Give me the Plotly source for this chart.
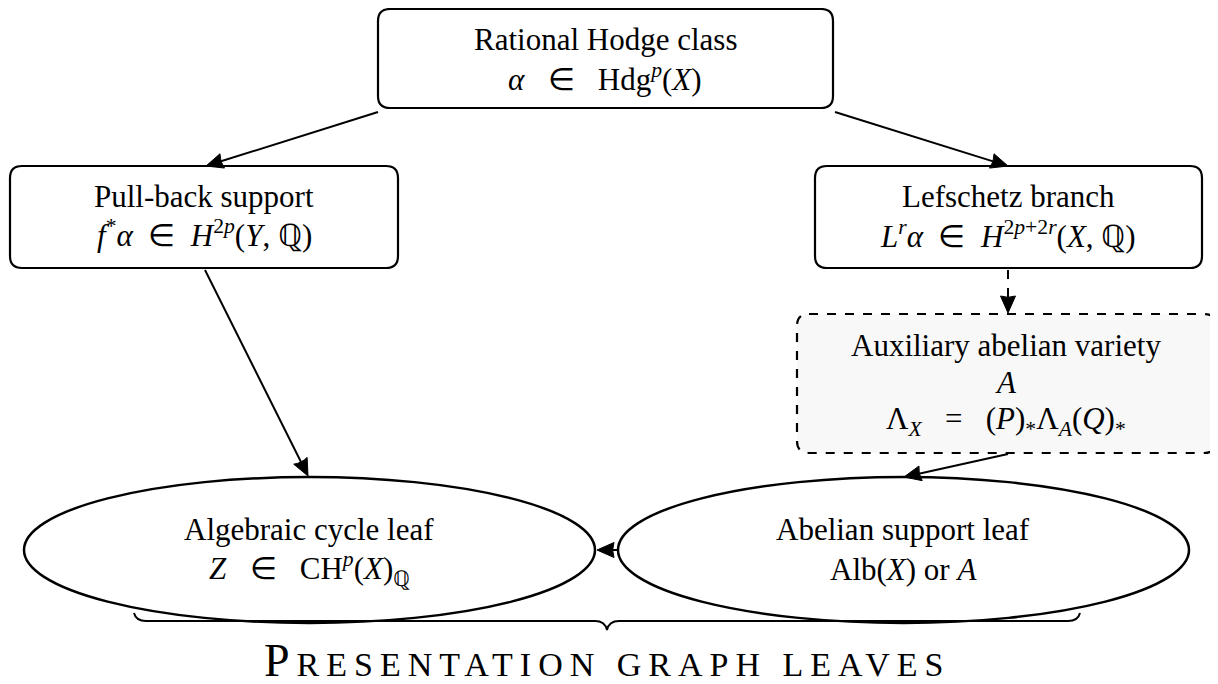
import math
import plotly.graph_objects as go

NB = "\u00a0"

# Node labels (lines of text)
top_lines = ["Rational Hodge class",
             f"<i>α</i>{NB}{NB}{NB}∈{NB}{NB}{NB}Hdg<sup><i>p</i></sup>(<i>X</i>)"]
left_lines = ["Pull-back support",
              f"<i>f</i><sup>*</sup><i>α</i>{NB}{NB}∈{NB}{NB}<i>H</i><sup>2<i>p</i></sup>(<i>Y</i>,{NB}ℚ)"]
right_lines = ["Lefschetz branch",
               f"<i>L</i><sup><i>r</i></sup><i>α</i>{NB}{NB}∈{NB}{NB}<i>H</i><sup>2<i>p</i>+2<i>r</i></sup>(<i>X</i>,{NB}ℚ)"]
aux_lines = ["Auxiliary abelian variety", "<i>A</i>",
             f"Λ<sub><i>X</i></sub>{NB}{NB}{NB}={NB}{NB}{NB}(<i>P</i>)<sub>*</sub>Λ<sub><i>A</i></sub>(<i>Q</i>)<sub>*</sub>"]
leafL_lines = ["Algebraic cycle leaf",
               f"<i>Z</i>{NB}{NB}{NB}∈{NB}{NB}{NB}CH<sup><i>p</i></sup>(<i>X</i>)<sub>ℚ</sub>"]
leafR_lines = ["Abelian support leaf", "Alb(<i>X</i>) or <i>A</i>"]
caption = ('<span style="letter-spacing:7px">P</span>'
           '<span style="font-size:34px;letter-spacing:7px">RESENTATION' + NB
           + 'GRAPH' + NB + 'LEAVES</span>')

FONT = "Liberation Serif"
FS = 31

# The page body adds an 8px offset; compensate so data units equal page pixels.
OFF = 8
W, H = 1218, 684

fig = go.Figure()
fig.add_trace(go.Scatter(x=[600], y=[300], mode="markers", marker=dict(opacity=0),
                         hoverinfo="skip", showlegend=False))

shapes = []
annotations = []


def rbox(x0, y0, x1, y1, r=12, dash="solid", fill="white"):
    path = (f"M {x0+r} {y0} L {x1-r} {y0} Q {x1} {y0} {x1} {y0+r} "
            f"L {x1} {y1-r} Q {x1} {y1} {x1-r} {y1} L {x0+r} {y1} "
            f"Q {x0} {y1} {x0} {y1-r} L {x0} {y0+r} Q {x0} {y0} {x0+r} {y0} Z")
    shapes.append(dict(type="path", path=path, xref="x", yref="y",
                       line=dict(color="black", width=2.2, dash=dash),
                       fillcolor=fill, layer="below"))


def text_lines(cx, ys, lines, size=FS):
    for y, t in zip(ys, lines):
        annotations.append(dict(x=cx, y=y, xref="x", yref="y", text=t,
                                showarrow=False, xanchor="center", yanchor="middle",
                                font=dict(family=FONT, size=size, color="black")))


def arrow(x0, y0, x1, y1, dash="solid", L=17, Wd=7.5):
    dx, dy = x1 - x0, y1 - y0
    d = math.hypot(dx, dy)
    ux, uy = dx / d, dy / d
    bx, by = x1 - ux * L, y1 - uy * L
    shapes.append(dict(type="line", x0=x0, y0=y0, x1=x1 - ux * (L - 3), y1=y1 - uy * (L - 3),
                       xref="x", yref="y", line=dict(color="black", width=2, dash=dash)))
    px, py = -uy, ux
    mx, my = x1 - ux * L * 0.85, y1 - uy * L * 0.85
    path = (f"M {x1} {y1} L {bx + px*Wd} {by + py*Wd} Q {mx} {my} {bx - px*Wd} {by - py*Wd} Z")
    shapes.append(dict(type="path", path=path, xref="x", yref="y",
                       line=dict(color="black", width=1), fillcolor="black"))


# boxes
rbox(378, 9, 833, 108)
rbox(10, 166, 398, 268)
rbox(815, 166, 1202, 268)
rbox(797, 314, 1216, 453, dash="dash", fill="#f8f8f8")

# ellipses
shapes.append(dict(type="circle", xref="x", yref="y", x0=24, x1=595, y0=477, y1=623,
                   line=dict(color="black", width=2.5), fillcolor="rgba(0,0,0,0)"))
shapes.append(dict(type="circle", xref="x", yref="y", x0=618, x1=1189, y0=477, y1=623,
                   line=dict(color="black", width=2.5), fillcolor="rgba(0,0,0,0)"))

# arrows
arrow(378, 112, 206, 166)
arrow(835, 112, 1008, 166)
arrow(205, 270, 308, 476)
arrow(1008, 270, 1008, 313, dash="dash")
arrow(1008, 454, 904, 477)
arrow(618, 550, 597, 550)

# brace
bx0, bx1, bc = 134, 1080, 607
by0, byh, byt = 613, 621, 630
brace = (f"M {bx0} {by0} Q {bx0+2} {byh} {bx0+12} {byh} L {bc-12} {byh} "
         f"Q {bc-2} {byh} {bc} {byt} Q {bc+2} {byh} {bc+12} {byh} "
         f"L {bx1-12} {byh} Q {bx1-2} {byh} {bx1} {by0}")
shapes.append(dict(type="path", path=brace, xref="x", yref="y",
                   line=dict(color="black", width=2)))

# texts
text_lines(605, [39, 77], top_lines)
text_lines(204, [196, 233], left_lines)
text_lines(1008, [196, 234], right_lines)
text_lines(1006, [345, 382, 421], aux_lines)
text_lines(309, [529, 569], leafL_lines)
text_lines(903, [529, 569], leafR_lines)
annotations.append(dict(x=607, y=660, xref="x", yref="y",
                        text=caption,
                        showarrow=False, xanchor="center", yanchor="middle",
                        font=dict(family=FONT, size=46, color="black")))

fig.update_layout(
    width=W - OFF, height=H - OFF,
    margin=dict(l=0, r=0, t=0, b=0),
    paper_bgcolor="white", plot_bgcolor="white",
    xaxis=dict(range=[OFF, W], visible=False, fixedrange=True),
    yaxis=dict(range=[H, OFF], visible=False, fixedrange=True),
    shapes=shapes, annotations=annotations, showlegend=False,
)

fig.write_html("out.html")
